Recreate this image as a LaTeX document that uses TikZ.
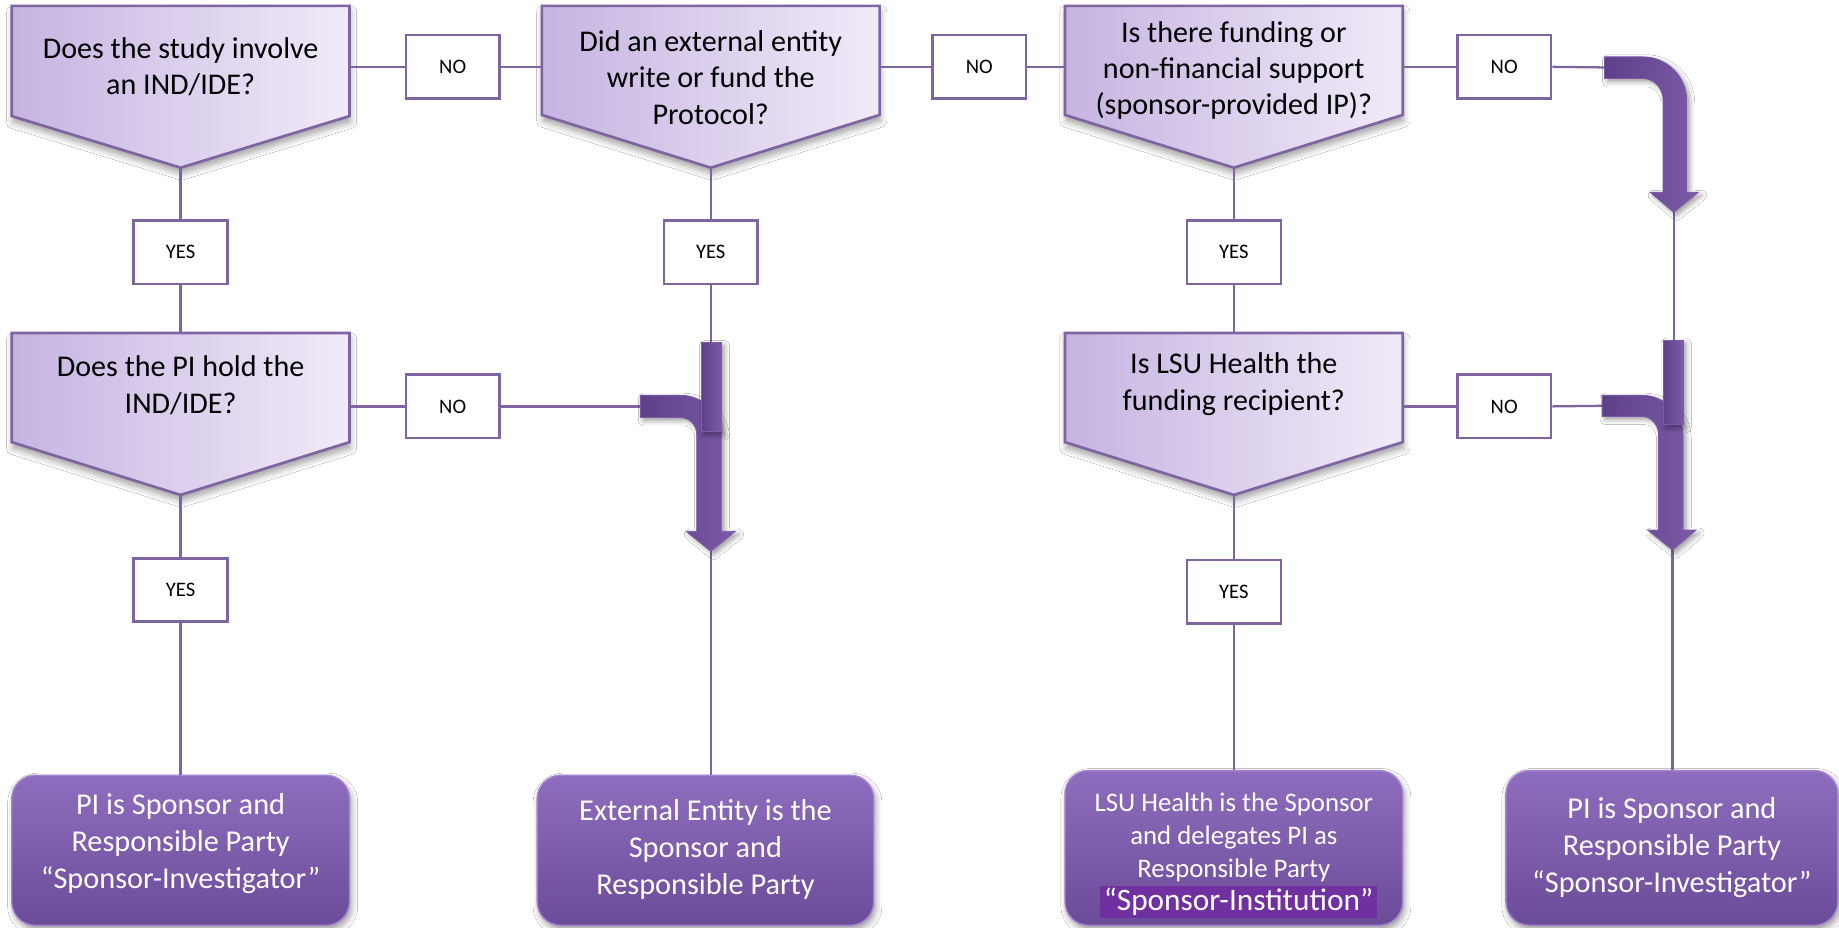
\documentclass[tikz,border=0pt]{standalone}
\usepackage{fontspec}
\setmainfont{Carlito}
\usetikzlibrary{shadows.blur,calc}
\definecolor{qborder}{HTML}{8064A2}
\definecolor{qleft}{HTML}{C6B4E1}
\definecolor{qright}{HTML}{F0EBF9}
\definecolor{linec}{HTML}{8064A2}
\definecolor{btop}{HTML}{8F6DBE}
\definecolor{bbot}{HTML}{6B4C99}
\definecolor{bedge}{HTML}{A484D2}
\definecolor{arrl}{HTML}{5E4088}
\definecolor{arrr}{HTML}{7C5AA8}
\definecolor{hl}{HTML}{7030A0}
\tikzset{
  qshape/.style={draw=qborder, line width=1.3pt, left color=qleft, right color=qright,
    blur shadow={shadow xshift=0.5pt, shadow yshift=-3pt, shadow blur radius=3pt, shadow opacity=35}},
  qtext/.style={align=center, font=\fontsize{14.6}{17.6}\selectfont, inner sep=0pt},
  lbl/.style={draw=qborder, line width=1.2pt, fill=white, minimum width=1.6cm, minimum height=1.08cm,
    inner sep=0pt, font=\fontsize{10}{12}\selectfont},
  conn/.style={draw=linec, line width=1.1pt},
  endbox/.style={rounded corners=0.4cm, top color=btop, bottom color=bbot, draw=bedge,
    line width=0.7pt, inner sep=0pt,
    blur shadow={shadow xshift=1pt, shadow yshift=-2pt, shadow blur radius=3pt, shadow opacity=40}},
  endtext/.style={align=center, text=white, inner sep=0pt, font=\fontsize{14.7}{17.9}\selectfont},
  bent/.style={left color=arrl, right color=arrr, draw=arrr, line width=0.4pt,
    blur shadow={shadow xshift=1.5pt, shadow yshift=-1.5pt, shadow blur radius=2.5pt, shadow opacity=40}},
}
\newcommand\qnode[7]{%
  \path[qshape] (#2-144,#3) -- (#2+144,#3) -- (#2+144,#4) -- (#2,#5) -- (#2-144,#4) -- cycle;
  \node[qtext] (#1) at (#2,#6) {#7};
  \coordinate (#1-top) at (#2,#3);
  \coordinate (#1-tip) at (#2,#5);
  \coordinate (#1-e) at (#2+144,#3);
  \coordinate (#1-w) at (#2-144,#3);
}
\begin{document}
\begin{tikzpicture}[x=0.02cm,y=-0.02cm]
\useasboundingbox[fill=white] (0,0) rectangle (1568,791);

% connector end points at the bent arrows
\coordinate (a1in) at (1368,57.5);
\coordinate (a1tip) at (1427,181);
\coordinate (a2stub) at (606,292);
\coordinate (a2in) at (546,346.5);
\coordinate (a2tip) at (606,470);
\coordinate (a3stub) at (1427,290);
\coordinate (a3in) at (1366,346);
\coordinate (a3tip) at (1426,469);

% question shapes
\qnode{p1}{154}{5}{99}{143}{57}{Does the study involve\\an IND/IDE?}
\qnode{p2}{606}{5}{98}{143}{66}{Did an external entity\\write or fund the\\Protocol?}
\qnode{p3}{1052}{5}{98}{143}{60}{Is there funding or\\non-financial support\\(sponsor-provided IP)?}
\qnode{p4}{154}{284}{377}{422}{328.5}{Does the PI hold the\\IND/IDE?}
\qnode{p5}{1052}{284}{377}{422}{327.5}{Is LSU Health the\\funding recipient?}

% label boxes
\node[lbl] (no1) at (386,57) {NO};
\node[lbl] (no2) at (835,57) {NO};
\node[lbl] (no3) at (1282.5,57) {NO};
\node[lbl] (no4) at (386,346.5) {NO};
\node[lbl] (no5) at (1282.5,346.5) {NO};
\node[lbl] (yes1) at (154,215) {YES};
\node[lbl] (yes2) at (606,215) {YES};
\node[lbl] (yes3) at (1052,215) {YES};
\node[lbl] (yes4) at (154,503) {YES};
\node[lbl] (yes5) at (1052,504.5) {YES};

% end boxes
\node[endbox, minimum width=5.76cm, minimum height=2.56cm] (b1) at (154,725) {};
\node[endbox, minimum width=5.74cm, minimum height=2.56cm] (b2) at (601.5,725) {};
\node[endbox, minimum width=5.76cm, minimum height=2.64cm] (b3) at (1052,723) {};
\node[endbox, minimum width=5.66cm, minimum height=2.64cm] (b4) at (1425.5,723) {};
\node[endtext] (b1t) at (154,719.5) {PI is Sponsor and\\Responsible Party\\“Sponsor-Investigator”};
\node[endtext] (b2t) at (601.5,724) {External Entity is the\\Sponsor and\\Responsible Party};
\node[endtext, font=\fontsize{13}{16.2}\selectfont] (b3t) at (1052,714) {LSU Health is the Sponsor\\and delegates PI as\\Responsible Party};
\node[endtext, fill=hl, inner xsep=2pt, inner ysep=1pt, font=\fontsize{15.2}{17}\selectfont] (b3h) at (1056,769) {“Sponsor-Institution”};
\node[endtext] (b4t) at (1425.5,723) {PI is Sponsor and\\Responsible Party\\“Sponsor-Investigator”};

% connectors
\draw[conn] (no1.west -| p1-e) -- (no1.west);
\draw[conn] (no1.east) -- (no1.east -| p2-w);
\draw[conn] (no2.west -| p2-e) -- (no2.west);
\draw[conn] (no2.east) -- (no2.east -| p3-w);
\draw[conn] (no3.west -| p3-e) -- (no3.west);
\draw[conn] (no3.east) -- (a1in);
\draw[conn] (no4.west -| p4-e) -- (no4.west);
\draw[conn] (no4.east) -- (a2in);
\draw[conn] (no5.west -| p5-e) -- (no5.west);
\draw[conn] (no5.east) -- (a3in);
\draw[conn] (p1-tip) -- (yes1.north);
\draw[conn] (yes1.south) -- (p4-top);
\draw[conn] (p4-tip) -- (yes4.north);
\draw[conn] (yes4.south) -- (yes4.south |- b1.north);
\draw[conn] (p2-tip) -- (yes2.north);
\draw[conn] (yes2.south) -- (a2stub);
\draw[conn] (a2tip) -- (a2tip |- b2.north);
\draw[conn] (p3-tip) -- (yes3.north);
\draw[conn] (yes3.south) -- (p5-top);
\draw[conn] (p5-tip) -- (yes5.north);
\draw[conn] (yes5.south) -- (yes5.south |- b3.north);
\draw[conn] (a1tip) -- (a3stub);
\draw[conn] (a3tip) -- (a3tip |- b4.north);

% bent arrows
\path[bent] (1368,48.5) -- (1401,48.5) .. controls (1421.4,48.5) and (1438,65) .. (1438,85.5)
  -- (1438,164) -- (1448,164) -- (1427,181) -- (1407,164) -- (1418,164) -- (1418,85)
  .. controls (1418,75.6) and (1410.4,67) .. (1401,67) -- (1368,67) -- cycle;
\path[bent] (546,337) -- (580,337) .. controls (599.3,337) and (615,352.7) .. (615,372)
  -- (615,453) -- (627,453) -- (606,470) -- (585,453) -- (594,453) -- (594,370)
  .. controls (594,362.3) and (587.7,356) .. (580,356) -- (546,356) -- cycle;
\path[bent] (598,292) rectangle (615,368);
\path[bent] (1366,337) -- (1400,337) .. controls (1419,337) and (1435,352.7) .. (1435,372)
  -- (1435,452) -- (1446,452) -- (1426,469) -- (1405,452) -- (1414,452) -- (1414,370)
  .. controls (1414,362.3) and (1407.7,355) .. (1400,355) -- (1366,355) -- cycle;
\path[bent] (1418,290) rectangle (1435,362);
\end{tikzpicture}
\end{document}
